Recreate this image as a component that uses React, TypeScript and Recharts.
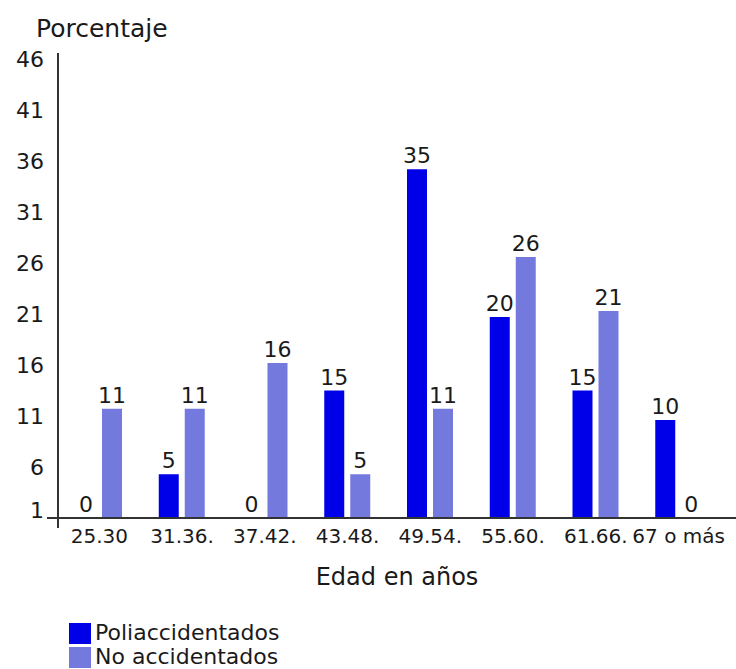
import React from 'react';
import { BarChart, Bar, XAxis, YAxis, Legend, LabelList } from 'recharts';

const FONT = '"DejaVu Sans", Verdana, sans-serif';
const TEXT = '#1a1a1a';
const AXIS = '#333333';
const POLI_COLOR = '#0000e8';
const NO_COLOR = '#7479de';

const categories = ['25.30', '31.36.', '37.42.', '43.48.', '49.54.', '55.60.', '61.66.', '67 o más'];
const poliValues = [0, 5.3, 0, 13.5, 35.2, 20.7, 13.5, 10.6];
const noValues = [11.7, 11.7, 16.2, 5.3, 11.7, 26.6, 21.3, 0];
const poliLabels = ['0', '5', '0', '15', '35', '20', '15', '10'];
const noLabels = ['11', '11', '16', '5', '11', '26', '21', '0'];
const yTicks = [1, 6, 11, 16, 21, 26, 31, 36, 41, 46];
const seriesOrder = ['poli', 'no'];

const data = categories.map((cat, i) => ({
  cat,
  poli: poliValues[i],
  no: noValues[i],
  poliLabel: poliLabels[i],
  noLabel: noLabels[i],
}));

const renderBarLabel = (props: any) => {
  const vb = props.viewBox && props.viewBox.width !== undefined ? props.viewBox : props;
  const x = Number(vb.x);
  const y = Number(vb.y);
  const w = Number(vb.width);
  const h = Number(vb.height);
  const top = Math.min(y, y + h);
  return (
    <text
      x={x + w / 2}
      y={top - 6}
      textAnchor="middle"
      fill={TEXT}
      fontSize={22}
      fontFamily={FONT}
    >
      {props.value}
    </text>
  );
};

const YTick = (props: any) => {
  const { x, y, payload } = props;
  const v = payload.value;
  const axisX = x + 14;
  return (
    <g>
      <text
        x={x}
        y={v === 1 ? y - 8 : y}
        dy="0.355em"
        textAnchor="end"
        fill={TEXT}
        fontSize={22}
        fontFamily={FONT}
      >
        {v}
      </text>
      {v === 1 ? (
        <g>
          <line x1={axisX - 11} y1={y} x2={axisX} y2={y} stroke={AXIS} strokeWidth={2} />
          <line x1={axisX} y1={y} x2={axisX} y2={y + 10} stroke={AXIS} strokeWidth={2} />
        </g>
      ) : null}
    </g>
  );
};

const renderYLabel = (props: any) => {
  const vb = props.viewBox || { x: 0, y: 53 };
  return (
    <text x={vb.x + 36} y={vb.y - 16} fill={TEXT} fontSize={25} fontFamily={FONT}>
      Porcentaje
    </text>
  );
};

const renderLegend = (props: any) => {
  const payload = [...(props.payload || [])].sort(
    (a: any, b: any) => seriesOrder.indexOf(a.dataKey) - seriesOrder.indexOf(b.dataKey)
  );
  return (
    <div style={{ fontFamily: FONT, fontSize: 22, lineHeight: '24px', color: TEXT }}>
      {payload.map((e: any) => (
        <div key={e.value} style={{ display: 'flex', alignItems: 'center', height: 24 }}>
          <span
            style={{ display: 'inline-block', width: 22, height: 21, background: e.color, marginRight: 4 }}
          />
          <span style={{ whiteSpace: 'nowrap' }}>{e.value}</span>
        </div>
      ))}
    </div>
  );
};

export default function App() {
  return (
    <div style={{ position: 'absolute', left: 0, top: 0, background: '#fff' }}>
      <BarChart
        width={736}
        height={669}
        data={data}
        margin={{ top: 53, right: 0, left: 0, bottom: 121 }}
        barGap={6}
        barSize={20}
      >
        <XAxis
          dataKey="cat"
          axisLine={{ stroke: AXIS, strokeWidth: 2 }}
          tickLine={false}
          tickSize={0}
          tickMargin={11}
          interval={0}
          height={30}
          padding={{ left: 0, right: 16 }}
          tick={{ fill: TEXT, fontSize: 20, fontFamily: FONT }}
          label={{
            value: 'Edad en años',
            position: 'bottom',
            offset: 20,
            fill: TEXT,
            fontSize: 24,
            fontFamily: FONT,
          }}
        />
        <YAxis
          type="number"
          width={58}
          domain={[1, 46]}
          ticks={yTicks}
          allowDataOverflow
          interval={0}
          axisLine={{ stroke: AXIS, strokeWidth: 2 }}
          tickLine={false}
          tickSize={6}
          tickMargin={8}
          padding={{ top: 6, bottom: 0 }}
          tick={<YTick />}
          label={renderYLabel}
        />
        <Legend
          layout="horizontal"
          verticalAlign="middle"
          align="center"
          wrapperStyle={{ left: 69, top: 621, width: 320, height: 48 }}
          content={renderLegend}
        />
        <Bar dataKey="poli" name="Poliaccidentados" fill={POLI_COLOR} isAnimationActive={false}>
          <LabelList dataKey="poliLabel" content={renderBarLabel} />
        </Bar>
        <Bar dataKey="no" name="No accidentados" fill={NO_COLOR} isAnimationActive={false}>
          <LabelList dataKey="noLabel" content={renderBarLabel} />
        </Bar>
      </BarChart>
    </div>
  );
}
